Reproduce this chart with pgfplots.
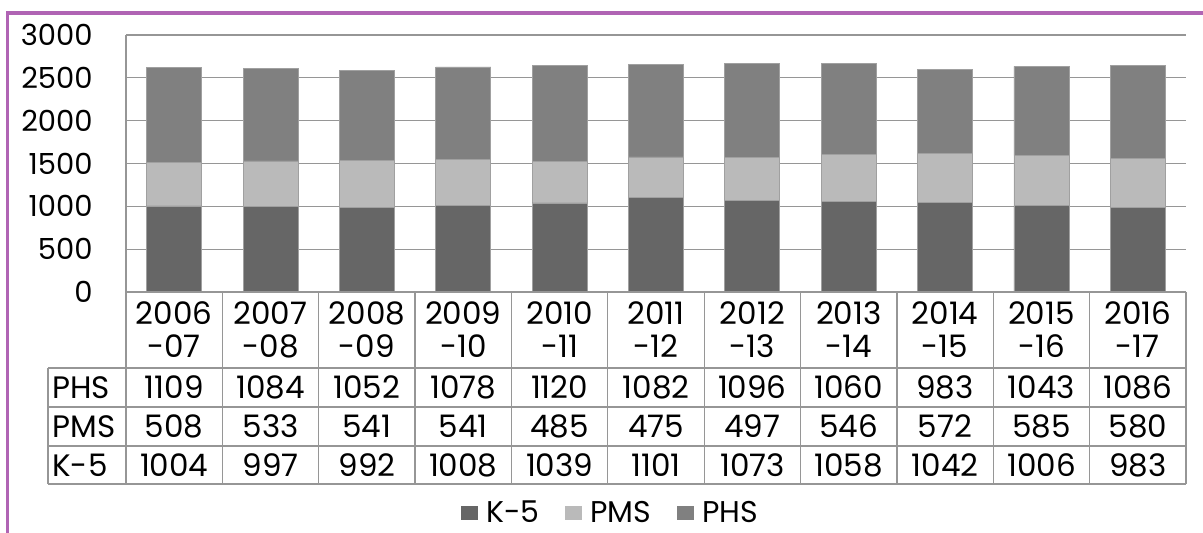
\documentclass[border=0pt]{standalone}
\usepackage{fontspec}
\setmainfont{Poppins}
\usepackage{pgfplots}
\usepackage{pgfplotstable}
\pgfplotsset{compat=1.18}
\definecolor{kfive}{RGB}{102,102,102}
\definecolor{pmsc}{RGB}{186,186,186}
\definecolor{phsc}{RGB}{128,128,128}
\definecolor{framec}{RGB}{176,100,180}
\definecolor{gridc}{RGB}{150,150,150}
\definecolor{barline}{RGB}{160,160,160}

\pgfplotstableread{
idx year next PHS PMS K5
0 2006 -07 1109 508 1004
1 2007 -08 1084 533 997
2 2008 -09 1052 541 992
3 2009 -10 1078 541 1008
4 2010 -11 1120 485 1039
5 2011 -12 1082 475 1101
6 2012 -13 1096 497 1073
7 2013 -14 1060 546 1058
8 2014 -15 983 572 1042
9 2015 -16 1043 585 1006
10 2016 -17 1086 580 983
}\datatable

\newcommand\tabfont{\fontsize{15.5}{17}\selectfont}

\begin{document}
\begin{tikzpicture}[x=0.5pt,y=-0.5pt]
\useasboundingbox (0,0) rectangle (1203,533);
\draw[framec, line width=1.6pt] (7.5,560) -- (7.5,13) -- (1220,13);
\begin{axis}[
  at={(63pt,-146pt)}, anchor=south west,
  scale only axis, width=530pt, height=128.5pt,
  ybar stacked, bar width=27.5pt,
  xmin=-0.5, xmax=10.5, ymin=0, ymax=3000,
  ytick={0,500,...,3000}, xtick=\empty,
  ymajorgrids, grid style={gridc, line width=0.6pt},
  axis line style={draw=none},
  major tick length=0pt,
  yticklabel style={anchor=east, inner sep=0pt, xshift=-16.5pt, font=\fontsize{14.5}{16}\selectfont},
  /pgf/number format/assume math mode=true,
  /pgf/number format/1000 sep={},
  clip=false,
  legend style={at={(0.458,-0.86)}, anchor=center, draw=none, fill=none,
    legend columns=3, font=\fontsize{15}{17}\selectfont,
    /tikz/every even column/.append style={column sep=11pt},
    /tikz/every odd column/.append style={column sep=2pt}},
  legend image code/.code={\fill[#1,draw=none] (0pt,-3.3pt) rectangle (8.5pt,3.3pt);},
]
\addplot[fill=kfive, draw=barline, line width=0.4pt] table[x=idx,y=K5]{\datatable};
\addplot[fill=pmsc, draw=barline, line width=0.4pt] table[x=idx,y=PMS]{\datatable};
\addplot[fill=phsc, draw=barline, line width=0.4pt] table[x=idx,y=PHS]{\datatable};
\legend{K-5,PMS,PHS}
\end{axis}
% table grid
\draw[gridc, line width=0.6pt] (126,35) -- (126,484);
\foreach \i in {1,...,11} {
  \draw[gridc, line width=0.6pt] ({126+\i*96.3636},292) -- ({126+\i*96.3636},484);
}
\draw[gridc, line width=0.6pt] (48,368) -- (48,484);
\foreach \yy in {368,407,446,484} {
  \draw[gridc, line width=0.6pt] (48,\yy) -- (1186,\yy);
}
\draw[gridc, line width=0.6pt] (126,292) -- (1186,292);
% row labels
\node[anchor=west, inner sep=0pt, font=\tabfont] at (52,387.5) {PHS};
\node[anchor=west, inner sep=0pt, font=\tabfont] at (52,426.5) {PMS};
\node[anchor=west, inner sep=0pt, font=\tabfont] at (52,465) {K-5};
% cells
\foreach \i in {0,...,10} {
  \pgfmathsetmacro\cx{126+(\i+0.5)*96.3636}
  \pgfplotstablegetelem{\i}{year}\of\datatable \edef\ya{\pgfplotsretval}
  \pgfplotstablegetelem{\i}{next}\of\datatable \edef\yb{\pgfplotsretval}
  \pgfplotstablegetelem{\i}{PHS}\of\datatable \edef\va{\pgfplotsretval}
  \pgfplotstablegetelem{\i}{PMS}\of\datatable \edef\vb{\pgfplotsretval}
  \pgfplotstablegetelem{\i}{K5}\of\datatable \edef\vc{\pgfplotsretval}
  \node[inner sep=0pt, font=\tabfont] at (\cx,313) {\ya};
  \node[inner sep=0pt, font=\tabfont] at (\cx,346) {\yb};
  \node[inner sep=0pt, font=\tabfont] at (\cx,387.5) {\va};
  \node[inner sep=0pt, font=\tabfont] at (\cx,426.5) {\vb};
  \node[inner sep=0pt, font=\tabfont] at (\cx,465) {\vc};
}
\end{tikzpicture}
\end{document}
